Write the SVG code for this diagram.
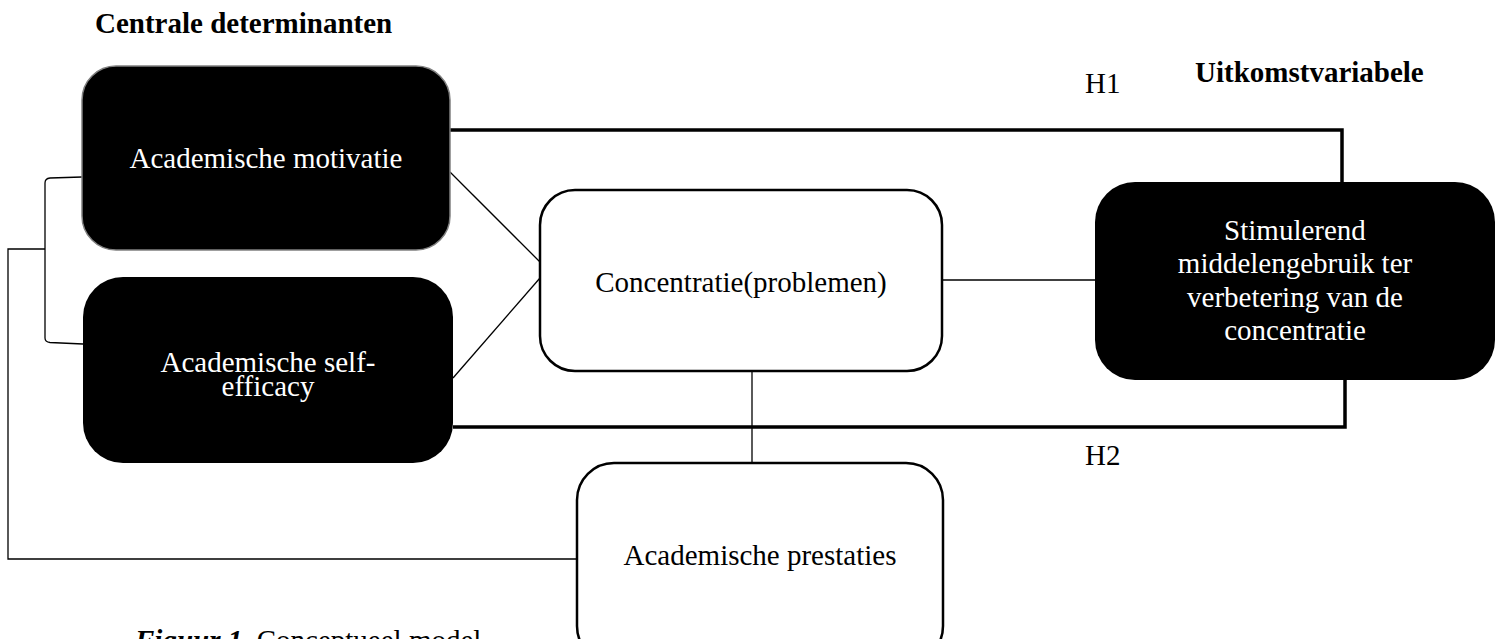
<svg xmlns="http://www.w3.org/2000/svg" width="1495" height="639" viewBox="0 0 1495 639">
<style>
text{font-family:"Liberation Serif","Times New Roman",serif;font-size:29px;}
.w{fill:#fff;text-anchor:middle;}
.k{fill:#000;text-anchor:middle;}
.b{font-weight:bold;}
.dark{fill:#000;}
.light{fill:#fff;stroke:#000;stroke-width:2.5;}
.thin{fill:none;stroke:#000;stroke-width:1.3;}
.thick{fill:none;stroke:#000;stroke-width:3.5;}
</style>
<rect width="1495" height="639" fill="#fff"/>
<text class="b" x="95" y="33">Centrale determinanten</text>
<text class="b" x="1195" y="82">Uitkomstvariabele</text>
<text x="1085" y="93">H1</text>
<text x="1085" y="465">H2</text>
<text x="135" y="650"><tspan font-weight="bold" font-style="italic">Figuur 1.</tspan> Conceptueel model</text>
<g id="connectors">
<path class="thick" d="M450,130 H1342 V183"/>
<path class="thick" d="M453,427 H1345 V380"/>
<path class="thin" d="M450,172 L540,262"/>
<path class="thin" d="M540,278 L453,378"/>
<path class="thin" d="M942,280 H1095"/>
<path class="thin" d="M752,371 V463"/>
<path class="thin" d="M82,177 L50,178 Q45,178.5 45,183 L45,338 Q45,342 50,342.5 L83,344"/>
<path class="thin" d="M45,249 H8 V559 H577"/>
</g>
<g id="node-motivatie">
<rect x="82" y="66" width="368" height="184" rx="34" class="dark" stroke="#808080" stroke-width="1.5"/>
<text class="w" x="266" y="168">Academische motivatie</text>
</g>
<g id="node-selfefficacy">
<rect x="83" y="277" width="370" height="186" rx="40" class="dark"/>
<text class="w" x="268" y="372">Academische self-</text>
<text class="w" x="268" y="396">efficacy</text>
</g>
<g id="node-concentratie">
<rect x="540" y="190" width="402" height="181" rx="35" class="light"/>
<text class="k" x="741" y="292">Concentratie(problemen)</text>
</g>
<g id="node-prestaties">
<rect x="577" y="463" width="366" height="200" rx="37" class="light"/>
<text class="k" x="760" y="565">Academische prestaties</text>
</g>
<g id="node-stimulerend">
<rect x="1095" y="182" width="400" height="198" rx="40" class="dark"/>
<text class="w" x="1295" y="240">Stimulerend</text>
<text class="w" x="1295" y="273">middelengebruik ter</text>
<text class="w" x="1295" y="307">verbetering van de</text>
<text class="w" x="1295" y="340">concentratie</text>
</g>
</svg>
